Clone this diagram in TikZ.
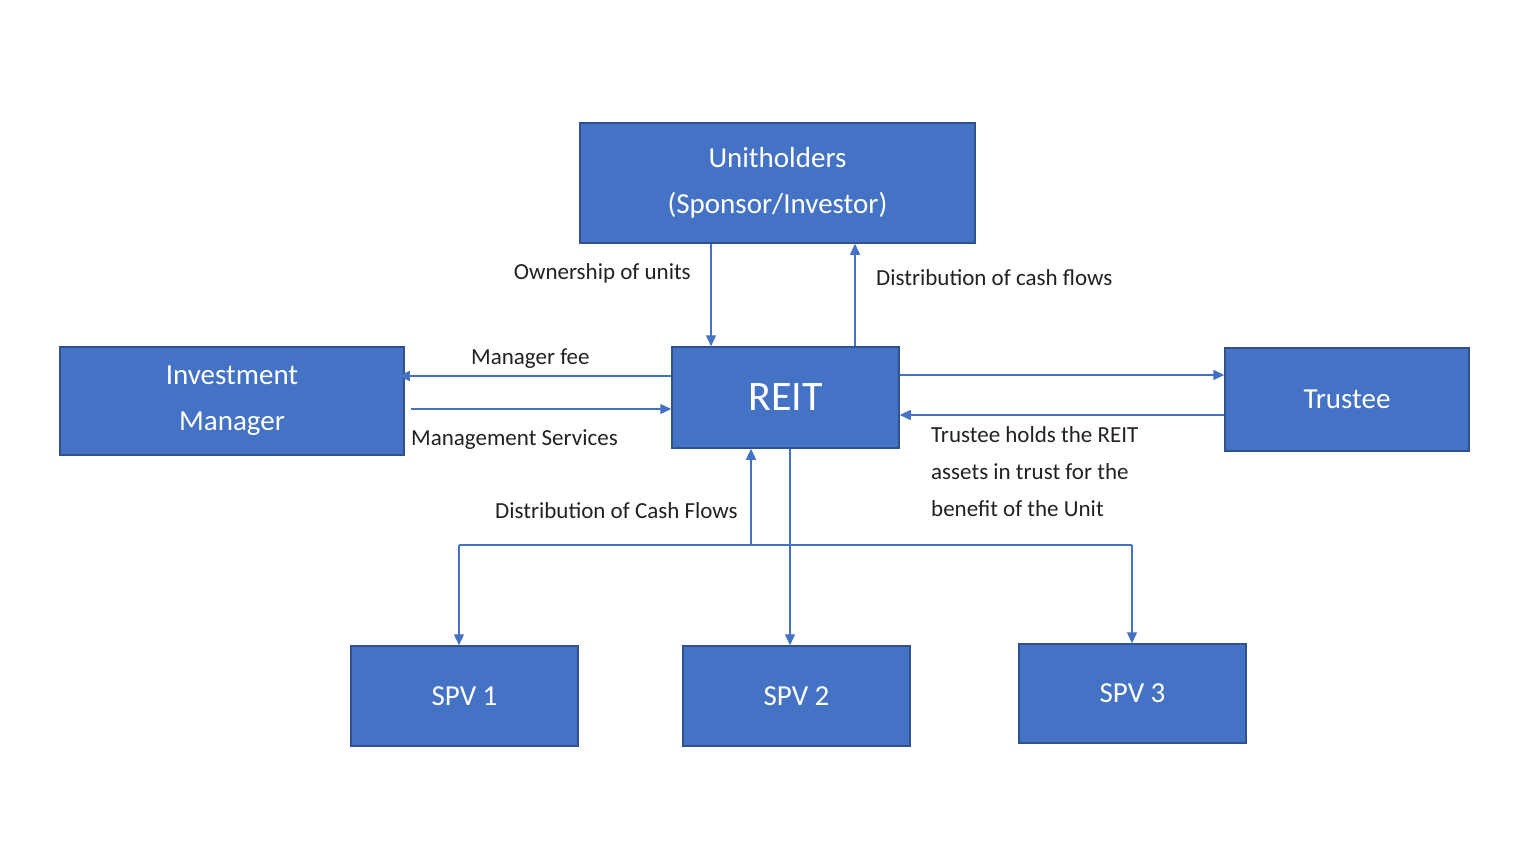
\documentclass[tikz,border=0pt]{standalone}
\usepackage{fontspec}
\setmainfont{Carlito}
\usetikzlibrary{arrows.meta}
\definecolor{bfill}{HTML}{4472C4}
\definecolor{bdraw}{HTML}{2F528F}
\definecolor{txt}{HTML}{222222}
\begin{document}
\begin{tikzpicture}[x=1pt,y=-1pt,
 box/.style={draw=bdraw,line width=1.5pt,fill=bfill,text=white,align=center,inner sep=0pt,font=\fontsize{29}{46}\selectfont},
 arr/.style={draw=bfill,line width=1.3pt,-{Triangle[length=11pt,width=10pt]}},
 ln/.style={draw=bfill,line width=1.3pt},
 lab/.style={text=txt,font=\fontsize{23}{36}\selectfont,inner sep=0pt}]
\useasboundingbox (0,0) rectangle (1536,864);
\fill[white] (0,0) rectangle (1536,864);
\node[box,minimum width=395pt,minimum height=120pt] (U) at (777.5,183) {Unitholders\\(Sponsor/Investor)};
\node[box,minimum width=227pt,minimum height=101pt,font=\fontsize{42}{50}\selectfont] (R) at (785.5,397.5) {REIT};
\node[box,minimum width=344pt,minimum height=108pt] (IM) at (232,401) {Investment\\Manager};
\node[box,minimum width=244pt,minimum height=103pt] (T) at (1347,399.5) {Trustee};
\node[box,minimum width=227pt,minimum height=100pt] (S1) at (464.5,696) {SPV 1};
\node[box,minimum width=227pt,minimum height=100pt] (S2) at (796.5,696) {SPV 2};
\node[box,minimum width=227pt,minimum height=99pt] (S3) at (1132.5,693.5) {SPV 3};
\coordinate (J) at (751,545);
\coordinate (JL) at (459,545);
\coordinate (JR) at (1132,545);
\draw[arr] (U.south -| 711,0) -- (R.north -| 711,0);
\draw[arr] (R.north -| 855,0) -- (U.south -| 855,0);
\draw[arr] (R.west |- 0,376) -- ([xshift=-6pt]IM.east |- 0,376);
\draw[arr] ([xshift=6pt]IM.east |- 0,409) -- (R.west |- 0,409);
\draw[arr] (R.east |- 0,375) -- (T.west |- 0,375);
\draw[arr] (T.west |- 0,415) -- (R.east |- 0,415);
\draw[arr] (J) -- (R.south -| J);
\draw[ln] (JL) -- (JR);
\draw[arr] (JL) -- (S1.north -| JL);
\draw[arr] (JR) -- (S3.north -| JR);
\draw[arr] (R.south -| 790,0) -- (S2.north -| 790,0);
\node[lab,anchor=east] (l1) at (691,273) {Ownership of units};
\node[lab,anchor=west] (l2) at (876,278) {Distribution of cash flows};
\node[lab,anchor=west] (l3) at (471,359) {Manager fee};
\node[lab,anchor=west] (l4) at (411,440) {Management Services};
\node[lab,anchor=east] (l5) at (738,511) {Distribution of Cash Flows};
\node[lab,anchor=north west,align=left,font=\fontsize{23}{37}\selectfont] (l6) at (931,426) {Trustee holds the REIT\\assets in trust for the\\benefit of the Unit};
\end{tikzpicture}
\end{document}
